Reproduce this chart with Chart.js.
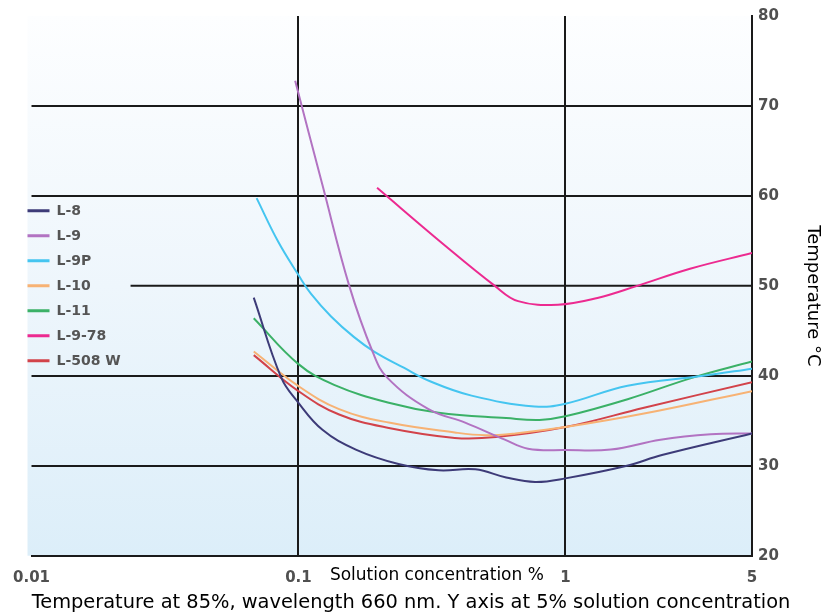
<!DOCTYPE html>
<html>
<head>
<meta charset="utf-8">
<title>Temperature vs solution concentration</title>
<script src="https://cdn.jsdelivr.net/npm/chart.js@4.4.1/dist/chart.umd.min.js"></script>
<style>
    html, body { margin: 0; padding: 0; background: #ffffff; }
    #wrap { width: 822px; height: 616px; }
</style>
</head>
<body>
<div id="wrap"><canvas id="tempChart" width="822" height="616"></canvas></div>
<script>
// Values (x = solution concentration %, y = temperature °C)
var l8X = [0.068, 0.0862, 0.1, 0.123, 0.164, 0.237, 0.335, 0.46, 0.6, 0.77, 1, 1.7, 2.3, 5];
var l8Y = [48.7, 39.8, 37.0, 34.0, 31.8, 30.2, 29.5, 29.6, 28.7, 28.2, 28.6, 30.0, 31.2, 33.6];

var l9X = [0.0972, 0.123, 0.155, 0.19, 0.215, 0.307, 0.421, 0.593, 0.724, 1, 1.48, 2.27, 3.5, 5];
var l9Y = [72.8, 61.2, 50.0, 42.6, 39.8, 36.3, 34.8, 32.9, 31.9, 31.75, 31.8, 32.9, 33.5, 33.6];

var l9pX = [0.0697, 0.0838, 0.1, 0.1115, 0.1325, 0.1616, 0.192, 0.248, 0.311, 0.445, 0.766, 1, 1.71, 3.29, 5];
var l9pY = [59.75, 54.95, 51.2, 49.1, 46.6, 44.3, 42.7, 40.9, 39.4, 37.8, 36.6, 36.9, 38.9, 40.0, 40.8];

var l10X = [0.068, 0.1, 0.142, 0.218, 0.385, 0.5, 0.65, 1, 1.97, 5];
var l10Y = [42.7, 38.85, 36.3, 34.8, 33.7, 33.4, 33.6, 34.3, 35.8, 38.3];

var l11X = [0.068, 0.1, 0.136, 0.218, 0.335, 0.6, 0.8, 1, 1.71, 3.0, 5];
var l11Y = [46.4, 41.3, 39.0, 37.0, 35.9, 35.3, 35.1, 35.5, 37.4, 39.8, 41.6];

var l978X = [0.197, 0.35, 0.544, 0.665, 0.938, 1.318, 1.858, 2.93, 5];
var l978Y = [60.9, 54.6, 50.0, 48.3, 47.9, 48.65, 50.0, 51.9, 53.65];

var l508X = [0.068, 0.1, 0.142, 0.218, 0.385, 0.55, 1, 1.97, 5];
var l508Y = [42.3, 38.3, 35.7, 34.2, 33.1, 33.2, 34.3, 36.45, 39.3];

var seriesNames = ['L-8', 'L-9', 'L-9P', 'L-10', 'L-11', 'L-9-78', 'L-508 W'];
var seriesColors = ['#3d3b78', '#b273c2', '#45c5f0', '#f7b274', '#3bb167', '#ec2a90', '#d2434a'];

var xTickValues = [0.01, 0.1, 1, 5];
var xTickLabels = ['0.01', '0.1', '1', '5'];
var xGridValues = [0.1, 1];
var yGridValues = [30, 40, 60, 70];
var yHalfGridValue = 50;       // this grid line stops at the legend
var yHalfGridFrom = 0.0235;    // x value where the half line starts

var xTitle = 'Solution concentration %';
var xTitleAt = 0.33;
var yTitle = 'Temperature °C';
var footText = 'Temperature at 85%, wavelength 660 nm. Y axis at 5% solution concentration';

function toPoints(xs, ys) {
    return xs.map(function (x, i) { return { x: x, y: ys[i] }; });
}

document.addEventListener('DOMContentLoaded', function () {
    var allX = [l8X, l9X, l9pX, l10X, l11X, l978X, l508X];
    var allY = [l8Y, l9Y, l9pY, l10Y, l11Y, l978Y, l508Y];

    var datasets = seriesNames.map(function (name, i) {
        return {
            label: name,
            data: toPoints(allX[i], allY[i]),
            borderColor: seriesColors[i],
            backgroundColor: seriesColors[i],
            borderWidth: 2,
            pointRadius: 0,
            fill: false,
            tension: 0.4
        };
    });

    // light blue gradient behind the plot, plus the short grid line and the titles
    var backgroundPlugin = {
        id: 'plotBackground',
        beforeDraw: function (chart) {
            var a = chart.chartArea, ctx = chart.ctx;
            var g = ctx.createLinearGradient(0, a.top, 0, a.bottom);
            g.addColorStop(0, '#fdfeff');
            g.addColorStop(0.5, '#eef6fc');
            g.addColorStop(1, '#dceef9');
            ctx.save();
            ctx.fillStyle = g;
            ctx.fillRect(a.left - 4, a.top, a.right - a.left + 4, a.bottom - a.top);
            ctx.restore();
        },
        afterLayout: function (chart) {
            // keep the legend inside the plot, flush with the left edge
            var lg = chart.legend, a = chart.chartArea;
            var pad = chart.options.plugins.legend.labels.padding;
            lg.left = a.left - pad - 4;
            lg.top = a.top;
            lg.bottom = a.bottom;
        },
        beforeDatasetsDraw: function (chart) {
            var ctx = chart.ctx, xs = chart.scales.x, ys = chart.scales.y;
            var y = ys.getPixelForValue(yHalfGridValue);
            ctx.save();
            ctx.strokeStyle = '#1a1a1a';
            ctx.lineWidth = 2;
            ctx.beginPath();
            ctx.moveTo(xs.getPixelForValue(yHalfGridFrom), y);
            ctx.lineTo(chart.chartArea.right, y);
            ctx.stroke();
            ctx.restore();
        },
        afterDraw: function (chart) {
            var ctx = chart.ctx, xs = chart.scales.x, a = chart.chartArea;
            ctx.save();
            ctx.fillStyle = '#000';
            ctx.textAlign = 'center';
            ctx.textBaseline = 'middle';
            ctx.font = '17px "DejaVu Sans"';
            ctx.fillText(xTitle, xs.getPixelForValue(xTitleAt), a.bottom + 20);
            ctx.translate(chart.width - 9, (a.top + a.bottom) / 2 + 10);
            ctx.rotate(Math.PI / 2);
            ctx.font = '18px "DejaVu Sans"';
            ctx.fillText(yTitle, 0, 0);
            ctx.restore();
        }
    };

    var ctx = document.getElementById('tempChart').getContext('2d');
    var tempChart = new Chart(ctx, {
        type: 'line',
        data: { datasets: datasets },
        options: {
            responsive: false,
            animation: false,
            layout: { padding: { left: 0, top: 16, right: 0, bottom: 0 } },
            scales: {
                x: {
                    type: 'logarithmic',
                    min: 0.01,
                    max: 5,
                    afterBuildTicks: function (scale) {
                        scale.ticks = xTickValues.map(function (v) { return { value: v }; });
                    },
                    afterFit: function (scale) { scale.height = 36; },
                    ticks: {
                        autoSkip: false,
                        maxRotation: 0,
                        padding: 13,
                        color: '#505050',
                        font: { family: 'DejaVu Sans', size: 15, weight: 'bold' },
                        callback: function (value, index) { return xTickLabels[index]; }
                    },
                    grid: {
                        drawTicks: false,
                        lineWidth: 2,
                        color: function (c) {
                            return c.tick && xGridValues.indexOf(c.tick.value) >= 0 ? '#1a1a1a' : 'rgba(0,0,0,0)';
                        }
                    },
                    border: { display: true, color: '#1a1a1a', width: 2 }
                },
                y: {
                    position: 'right',
                    min: 20,
                    max: 80,
                    afterFit: function (scale) { scale.width = 70; },
                    ticks: {
                        stepSize: 10,
                        padding: 6,
                        color: '#505050',
                        font: { family: 'DejaVu Sans', size: 15, weight: 'bold' }
                    },
                    grid: {
                        drawTicks: false,
                        lineWidth: 2,
                        color: function (c) {
                            return c.tick && yGridValues.indexOf(c.tick.value) >= 0 ? '#1a1a1a' : 'rgba(0,0,0,0)';
                        }
                    },
                    border: { display: true, color: '#1a1a1a', width: 2 }
                }
            },
            plugins: {
                legend: {
                    position: 'chartArea',
                    align: 'center',
                    labels: {
                        boxWidth: 22,
                        boxHeight: 3,
                        padding: 11,
                        color: '#555555',
                        font: { family: 'DejaVu Sans', size: 14, weight: 'bold' },
                        generateLabels: function (chart) {
                            var items = Chart.defaults.plugins.legend.labels.generateLabels(chart);
                            items.forEach(function (it) {
                                it.fillStyle = it.strokeStyle;
                                it.lineWidth = 0;
                            });
                            return items;
                        }
                    }
                },
                title: {
                    display: true,
                    position: 'bottom',
                    text: footText,
                    color: '#000',
                    font: { family: 'DejaVu Sans', size: 19.4, weight: 'normal' },
                    padding: { top: 0, bottom: 1 }
                },
                tooltip: { enabled: false }
            }
        },
        plugins: [backgroundPlugin]
    });
});
</script>
</body>
</html>
